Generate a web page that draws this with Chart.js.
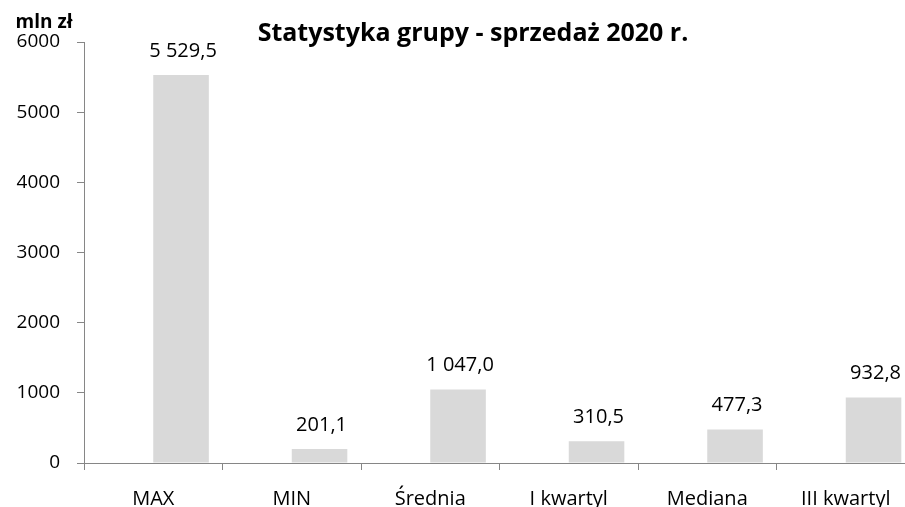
<!DOCTYPE html>
<html lang="pl">
<head>
  <meta charset="UTF-8">
  <title>Statystyka grupy - sprzedaż 2020 r.</title>
  <script src="https://cdn.jsdelivr.net/npm/chart.js"></script>
  <style>
    html, body {
      margin: 0;
      padding: 0;
      background: white;
      overflow: hidden;
    }
    #wrap {
      width: 920px;
      height: 507px;
    }
  </style>
</head>
<body>
  <div id="wrap"><canvas id="chart" width="920" height="507"></canvas></div>
  <script>
    // dane (mln zł)
    const categories = ['MAX', 'MIN', 'Średnia', 'I kwartyl', 'Mediana', 'III kwartyl'];
    const sales = [5529.5, 201.1, 1047.0, 310.5, 477.3, 932.8];
    const emptySeries = [null, null, null, null, null, null]; // pusta seria jak w Excelu
    const yTicks = [0, 1000, 2000, 3000, 4000, 5000, 6000];

    const chartTitle = 'Statystyka grupy - sprzedaż 2020 r.';
    const unitLabel = 'mln zł';
    const font = '"Open Sans", "DejaVu Sans", sans-serif';
    const axisColor = '#868686';

    // 5529.5 -> "5 529,5"
    function formatPl(v) {
      const parts = v.toFixed(1).split('.');
      const intPart = parts[0].replace(/\B(?=(\d{3})+(?!\d))/g, ' ');
      return intPart + ',' + parts[1];
    }

    const valueLabels = {
      id: 'valueLabels',
      afterDatasetsDraw(chart) {
        const ctx = chart.ctx;
        const meta = chart.getDatasetMeta(1);
        ctx.save();
        ctx.font = '20px ' + font;
        ctx.fillStyle = '#000';
        ctx.textAlign = 'center';
        ctx.textBaseline = 'middle';
        meta.data.forEach((bar, i) => {
          ctx.fillText(formatPl(sales[i]), bar.x + 2, bar.y - 24);
        });
        ctx.restore();
      }
    };

    const headerText = {
      id: 'headerText',
      afterDraw(chart) {
        const ctx = chart.ctx;
        ctx.save();
        ctx.fillStyle = '#000';
        ctx.textAlign = 'center';
        ctx.textBaseline = 'alphabetic';
        ctx.font = 'bold 25px ' + font;
        ctx.fillText(chartTitle, 473, 41);
        ctx.font = 'bold 19px ' + font;
        ctx.fillText(unitLabel, 44, 28);
        ctx.restore();
      }
    };

    new Chart(document.getElementById('chart'), {
      type: 'bar',
      data: {
        labels: categories,
        datasets: [
          { label: 'pusta', data: emptySeries, backgroundColor: '#d9d9d9' },
          { label: 'Sprzedaż', data: sales, backgroundColor: '#d9d9d9' }
        ]
      },
      options: {
        responsive: false,
        animation: false,
        devicePixelRatio: 1,
        categoryPercentage: 0.8026,
        barPercentage: 1,
        layout: { padding: { top: 42, right: 5, left: 0, bottom: 0 } },
        plugins: {
          legend: { display: false },
          title: { display: false },
          tooltip: { enabled: false }
        },
        scales: {
          x: {
            offset: true,
            grid: {
              offset: true,
              drawOnChartArea: false,
              drawTicks: true,
              tickLength: 7,
              color: axisColor
            },
            border: { color: axisColor, width: 1 },
            ticks: {
              color: '#000',
              font: { family: font, size: 20 },
              padding: 17,
              maxRotation: 0,
              autoSkip: false
            },
            afterFit(scale) { scale.height = 44; }
          },
          y: {
            min: 0,
            max: 6000,
            afterBuildTicks(scale) {
              scale.ticks = yTicks.map(v => ({ value: v }));
            },
            grid: {
              drawOnChartArea: false,
              drawTicks: true,
              tickLength: 7,
              color: axisColor
            },
            border: { color: axisColor, width: 1 },
            ticks: {
              color: '#000',
              font: { family: font, size: 19 },
              padding: 17,
              callback: v => String(v)
            },
            afterFit(scale) { scale.width = 84; }
          }
        }
      },
      plugins: [valueLabels, headerText]
    });
  </script>
</body>
</html>
